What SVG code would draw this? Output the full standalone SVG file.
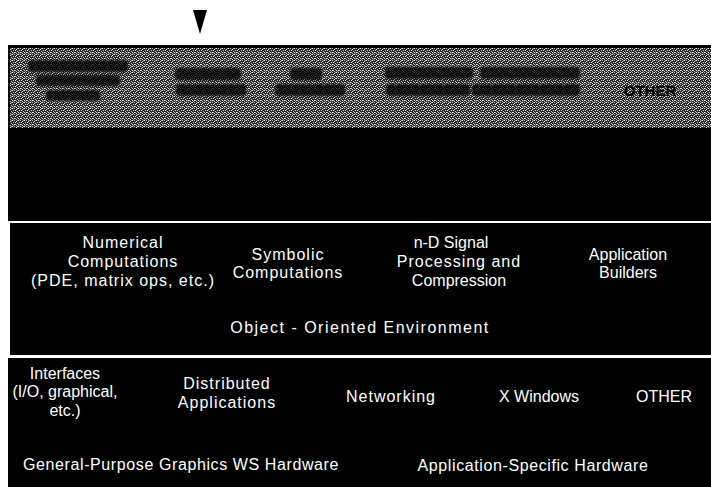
<svg xmlns="http://www.w3.org/2000/svg" width="711" height="487" viewBox="0 0 711 487">
<defs>
<pattern id="halftone" width="6" height="6" patternUnits="userSpaceOnUse">
<rect width="6" height="6" fill="#2a2a2a"/>
<rect x="0" y="0" width="1" height="1" fill="#e8e8e8"/>
<rect x="2" y="0" width="1" height="1" fill="#bdbdbd"/>
<rect x="4" y="1" width="1" height="1" fill="#f0f0f0"/>
<rect x="1" y="2" width="1" height="1" fill="#d0d0d0"/>
<rect x="3" y="2" width="1" height="1" fill="#e0e0e0"/>
<rect x="5" y="3" width="1" height="1" fill="#c0c0c0"/>
<rect x="0" y="4" width="1" height="1" fill="#dcdcdc"/>
<rect x="2" y="4" width="1" height="1" fill="#f4f4f4"/>
<rect x="4" y="5" width="1" height="1" fill="#cccccc"/>
<rect x="1" y="5" width="1" height="1" fill="#9a9a9a"/>
<rect x="5" y="0" width="1" height="1" fill="#a8a8a8"/>
<rect x="3" y="4" width="1" height="1" fill="#b4b4b4"/>
</pattern>
<filter id="soft" x="-10%" y="-30%" width="120%" height="160%">
<feGaussianBlur stdDeviation="1.2"/>
</filter>
<style>
.lbl{font-family:"Liberation Sans",Arial,Helvetica,sans-serif;font-size:16px;fill:#ffffff;text-anchor:middle}
.wide{letter-spacing:1px}
.wider{letter-spacing:1.5px}
.dark{font-family:"Liberation Sans",Arial,Helvetica,sans-serif;font-size:15px;font-weight:bold;fill:#000000;text-anchor:middle}
.blob{fill:#000000;opacity:0.8}
</style>
</defs>
<rect width="711" height="487" fill="#ffffff"/>

<g id="connectors">
<polygon points="193,10 207,10 200,34" fill="#000000"/>
</g>

<g id="applications-layer">
<rect x="8" y="45" width="703" height="176" fill="#000000"/>
<rect x="10" y="48" width="701" height="80" fill="url(#halftone)"/>
<g id="app-blobs" filter="url(#soft)">
<rect class="blob" x="28" y="60" width="100" height="12" rx="4"/>
<rect class="blob" x="36" y="75" width="84" height="11" rx="4"/>
<rect class="blob" x="46" y="90" width="54" height="11" rx="4"/>
<rect class="blob" x="175" y="68" width="66" height="12" rx="4"/>
<rect class="blob" x="176" y="84" width="70" height="12" rx="4"/>
<rect class="blob" x="290" y="68" width="32" height="12" rx="4"/>
<rect class="blob" x="275" y="84" width="70" height="12" rx="4"/>
<rect class="blob" x="385" y="67" width="88" height="12" rx="4"/>
<rect class="blob" x="386" y="84" width="84" height="12" rx="4"/>
<rect class="blob" x="480" y="67" width="100" height="12" rx="4"/>
<rect class="blob" x="472" y="84" width="108" height="12" rx="4"/>
</g>
<text class="dark" x="650" y="96">OTHER</text>
</g>

<g id="software-layer">
<rect x="10" y="223" width="701" height="132" fill="#000000"/>
<g id="numerical">
<text class="lbl wide" x="123" y="248">Numerical</text>
<text class="lbl wide" x="123" y="267">Computations</text>
<text class="lbl wide" x="123" y="286">(PDE, matrix ops, etc.)</text>
</g>
<g id="symbolic">
<text class="lbl wide" x="288" y="260">Symbolic</text>
<text class="lbl wide" x="288" y="278">Computations</text>
</g>
<g id="signal">
<text class="lbl" x="451" y="248">n-D Signal</text>
<text class="lbl wide" x="459" y="267">Processing and</text>
<text class="lbl" x="459" y="286">Compression</text>
</g>
<g id="builders">
<text class="lbl" x="628" y="260">Application</text>
<text class="lbl" x="628" y="278">Builders</text>
</g>
<g id="oo-env">
<text class="lbl wider" x="360" y="333">Object - Oriented Environment</text>
</g>
</g>

<g id="system-layer">
<rect x="8" y="358" width="703" height="129" fill="#000000"/>
<g id="interfaces">
<text class="lbl" x="65" y="379">Interfaces</text>
<text class="lbl" x="65" y="397">(I/O, graphical,</text>
<text class="lbl" x="65" y="416">etc.)</text>
</g>
<g id="distributed">
<text class="lbl wide" x="227" y="389">Distributed</text>
<text class="lbl wide" x="227" y="408">Applications</text>
</g>
<g id="networking"><text class="lbl wide" x="391" y="402">Networking</text></g>
<g id="xwindows"><text class="lbl" x="539" y="402">X Windows</text></g>
<g id="other"><text class="lbl" x="664" y="402">OTHER</text></g>
<g id="gp-hardware"><text class="lbl" x="181" y="470" style="letter-spacing:0.6px">General-Purpose Graphics WS Hardware</text></g>
<g id="as-hardware"><text class="lbl" x="533" y="471" style="letter-spacing:0.6px">Application-Specific Hardware</text></g>
</g>
</svg>
